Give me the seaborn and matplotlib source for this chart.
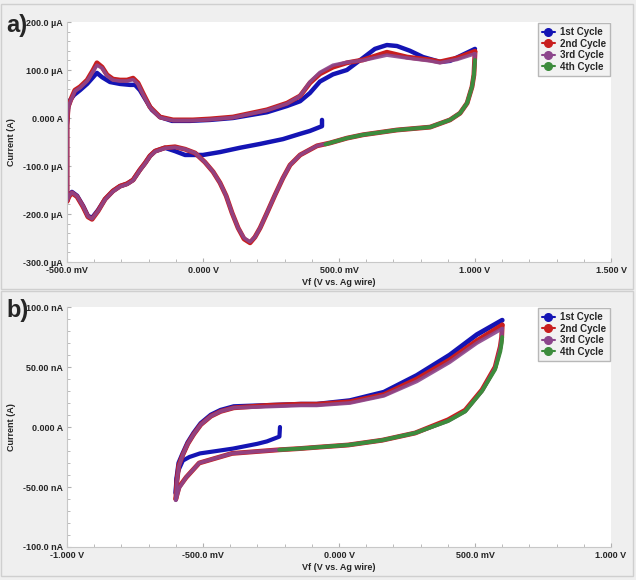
import matplotlib
matplotlib.use('Agg')
import matplotlib.pyplot as plt
import seaborn as sns
from matplotlib.lines import Line2D
from matplotlib.patches import Rectangle
from matplotlib.ticker import AutoMinorLocator

# ---------------- panel a) : potential (V) / current (uA) ----------------
a1_v = [0.4375, 0.4375, 0.393, 0.357, 0.294, 0.21, 0.136, 0.0625, 0.0, -0.066, -0.103, -0.14,
        -0.176, -0.195, -0.213, -0.232, -0.257, -0.279, -0.305, -0.331, -0.36, -0.386, -0.408,
        -0.423, -0.441, -0.463, -0.482, -0.493, -0.5,
        -0.5, -0.5, -0.496, -0.489, -0.474, -0.452, -0.426, -0.404, -0.39, -0.371, -0.342, -0.305,
        -0.268, -0.25, -0.232, -0.213, -0.188, -0.158, -0.114, -0.048, 0.026, 0.11, 0.235, 0.309,
        0.357, 0.393, 0.43, 0.478, 0.529, 0.588, 0.632, 0.676, 0.713, 0.761, 0.809, 0.871, 0.908,
        0.945, 1.0]
a1_i = [-4, -17, -27, -33, -44, -54, -62, -71, -77, -77, -69, -62,
        -69, -79, -94, -108, -129, -137, -142, -152, -169, -192, -208,
        -204, -183, -162, -154, -162, -172,
        -88, -15, 21, 37, 48, 58, 71, 85, 94, 85, 75, 71,
        69, 69, 58, 40, 17, 2, -6, -6, -4, 0, 12, 25,
        35, 52, 76, 91, 100, 125, 144, 152, 150, 140, 127, 117, 119,
        129, 144]

a2_v = [1.0, 0.996, 0.989, 0.971, 0.945, 0.908, 0.835, 0.713, 0.588, 0.529, 0.467, 0.419, 0.357,
        0.32, 0.294, 0.265, 0.235, 0.21, 0.191, 0.173, 0.151, 0.129, 0.107, 0.085, 0.0625, 0.037,
        0.007, -0.029, -0.066, -0.103, -0.14,
        -0.176, -0.195, -0.213, -0.232, -0.257, -0.279, -0.305, -0.331, -0.36, -0.386, -0.408,
        -0.423, -0.441, -0.463, -0.482, -0.493, -0.5,
        -0.5, -0.5, -0.496, -0.482, -0.471, -0.452, -0.426, -0.404, -0.39, -0.371, -0.353, -0.331,
        -0.305, -0.279, -0.257, -0.239, -0.221, -0.195, -0.158, -0.11, -0.037, 0.026, 0.11, 0.235,
        0.309, 0.357, 0.393, 0.43, 0.478, 0.529, 0.588, 0.676, 0.75, 0.835, 0.871, 0.934, 1.0]
a2_i = [137, 90, 65, 31, 10, -4, -19, -25, -35, -42, -52, -58, -77,
        -98, -125, -160, -198, -229, -248, -260, -252, -229, -198, -162, -135, -112,
        -92, -73, -65, -60, -62,
        -69, -79, -94, -108, -129, -137, -142, -152, -169, -194, -211,
        -206, -185, -164, -156, -164, -174,
        -88, -15, 23, 44, 58, 65, 79, 100, 115, 106, 90, 81,
        79, 79, 83, 73, 52, 23, 2, -4, -4, -2, 2, 17,
        31, 46, 73, 92, 106, 115, 121, 137, 127, 121, 117, 125, 139]

a3_v = a2_v
a3_i = [134, 90, 65, 31, 10, -4, -19, -25, -35, -42, -52, -58, -77,
        -98, -125, -160, -198, -229, -248, -258, -250, -229, -198, -162, -135, -112,
        -92, -73, -65, -61, -63,
        -70, -80, -95, -109, -130, -138, -143, -153, -170, -194, -210,
        -205, -184, -163, -155, -163, -173,
        -88, -15, 22, 42, 56, 63, 77, 97, 110, 104, 88, 79,
        77, 77, 80, 71, 50, 22, 1, -5, -5, -3, 1, 16,
        30, 46, 75, 95, 110, 116, 120, 131, 125, 119, 115, 122, 134]

a4_v = [1.0, 0.996, 0.989, 0.971, 0.945, 0.908, 0.835, 0.713, 0.588, 0.529, 0.467, 0.45]
a4_i = [121, 90, 65, 31, 10, -4, -19, -25, -35, -42, -52, -55]

# ---------------- panel b) : potential (V) / current (nA) ----------------
b_up_v = [-0.6, -0.596, -0.589, -0.574, -0.556, -0.534, -0.508, -0.471, -0.435, -0.387,
          -0.262, -0.14, -0.082, 0.04, 0.165, 0.286, 0.407, 0.507, 0.6]
b1_up_i = [-55, -42, -30, -22, -13, -5, 3, 10, 14, 17, 18, 19, 19, 22, 29, 43, 60, 77, 89]
b2_up_i = [-60, -45, -32, -23, -14, -6, 2, 9, 13, 16, 18, 19, 19, 21, 27, 40, 56, 72, 85]
b3_up_i = [-61, -46, -33, -23, -14, -6, 2, 9, 13, 16, 17, 18, 18, 20, 26, 38, 54, 70, 82]

b1_dn_v = [-0.217, -0.219, -0.265, -0.3, -0.39, -0.45, -0.511, -0.55, -0.574, -0.59, -0.598, -0.6]
b1_dn_i = [0, -8, -12, -14, -18, -20, -22, -25, -28, -36, -44, -55]

b_dn_v = [0.6, 0.598, 0.593, 0.574, 0.526, 0.464, 0.401, 0.28, 0.159, 0.034, -0.088, -0.146,
          -0.22, -0.393, -0.514, -0.562, -0.588, -0.6]
b2_dn_i = [85, 75, 67, 50, 31, 14, 6, -5, -11, -15, -17, -18, -19, -22, -30, -42, -50, -60]
b3_dn_i = [82, 74, 66, 49, 30, 13, 5, -5, -11, -15, -17, -18, -19, -22, -30, -42, -51, -61]
b4_dn_i = [75, 70, 63, 48, 30, 13, 5, -5, -11, -15, -17, -18, -19]

cycles = ['1st Cycle', '2nd Cycle', '3rd Cycle', '4th Cycle']
colors = ['#1414b4', '#c81e1e', '#8c468c', '#3c8c3c']

a_xticks = [-0.5, 0.0, 0.5, 1.0, 1.5]
a_xlabels = ['-500.0 mV', '0.000 V', '500.0 mV', '1.000 V', '1.500 V']
a_yticks = [-300, -200, -100, 0, 100, 200]
a_ylabels = ['-300.0 µA', '-200.0 µA', '-100.0 µA', '0.000 A', '100.0 µA', '200.0 µA']
b_xticks = [-1.0, -0.5, 0.0, 0.5, 1.0]
b_xlabels = ['-1.000 V', '-500.0 mV', '0.000 V', '500.0 mV', '1.000 V']
b_yticks = [-100, -50, 0, 50, 100]
b_ylabels = ['-100.0 nA', '-50.00 nA', '0.000 A', '50.00 nA', '100.0 nA']

sns.set_style('white')
plt.rcParams['font.family'] = ['Liberation Sans', 'DejaVu Sans']
plt.rcParams['font.weight'] = 'bold'

fig = plt.figure(figsize=(6.36, 5.80), dpi=100, facecolor='#efefef')
fig.patches.append(Rectangle((1 / 636, 1 - 289 / 580), 632 / 636, 285 / 580, transform=fig.transFigure,
                             fill=False, edgecolor='#cfcfcf', lw=1))
fig.patches.append(Rectangle((1 / 636, 1 - 576 / 580), 632 / 636, 285 / 580, transform=fig.transFigure,
                             fill=False, edgecolor='#cfcfcf', lw=1))

axa = fig.add_axes([67 / 636, 1 - 262 / 580, 544 / 636, 240 / 580])
axb = fig.add_axes([67 / 636, 1 - 547 / 580, 544 / 636, 240 / 580])


def trace(ax, xs, ys, c, w, a=1.0):
    sns.lineplot(x=xs, y=ys, sort=False, estimator=None, errorbar=None, ax=ax,
                 color=c, lw=w, alpha=a, solid_capstyle='round', solid_joinstyle='round')


lw = 3.5
trace(axa, a1_v, a1_i, colors[0], lw - 0.3)
trace(axa, a2_v, a2_i, colors[1], lw)
trace(axa, a3_v, a3_i, colors[2], lw - 0.9, 0.9)
trace(axa, a4_v, a4_i, colors[3], lw - 0.7)

trace(axb, b_up_v, b1_up_i, colors[0], lw)
trace(axb, b1_dn_v, b1_dn_i, colors[0], lw - 0.5)
trace(axb, b_dn_v, b2_dn_i, colors[1], lw)
trace(axb, b_up_v, b2_up_i, colors[1], lw)
trace(axb, b_dn_v, b3_dn_i, colors[2], lw - 0.8, 0.9)
trace(axb, b_up_v, b3_up_i, colors[2], lw - 0.8, 0.9)
trace(axb, b_dn_v[:len(b4_dn_i)], b4_dn_i, colors[3], lw - 0.7)

setup = [
    (axa, a_xticks, a_xlabels, a_yticks, a_ylabels, 'a)'),
    (axb, b_xticks, b_xlabels, b_yticks, b_ylabels, 'b)'),
]
for ax, xt, xl, yt, yl, tag in setup:
    ax.set_facecolor('white')
    ax.set_xlim(xt[0], xt[-1])
    ax.set_ylim(yt[0], yt[-1])
    ax.set_xticks(xt)
    ax.set_xticklabels(xl)
    ax.set_yticks(yt)
    ax.set_yticklabels(yl)
    ax.xaxis.set_minor_locator(AutoMinorLocator(5))
    ax.yaxis.set_minor_locator(AutoMinorLocator(5))
    ax.tick_params(which='both', direction='in', color='#b0b0b0', labelsize=6.5, pad=3)
    ax.tick_params(which='major', length=3, left=True, bottom=True)
    ax.tick_params(which='minor', length=2, left=True, bottom=True)
    for s in ['top', 'right']:
        ax.spines[s].set_visible(False)
    for s in ['left', 'bottom']:
        ax.spines[s].set_color('#c8c8c8')
    ax.set_xlabel('Vf (V vs. Ag wire)', fontsize=6.5, fontweight='bold', labelpad=2)
    ax.set_ylabel('Current (A)', fontsize=6.5, fontweight='bold', labelpad=5)
    handles = [Line2D([0], [0], color=c, marker='o', markersize=5.5, lw=1.5) for c in colors]
    ax.legend(handles, cycles, loc='upper right', bbox_to_anchor=(1.0, 1.0), borderaxespad=0.15,
              handlelength=1.3, labelspacing=0.15, borderpad=0.4, handletextpad=0.5,
              fancybox=False, framealpha=1, facecolor='#f2f2f2', edgecolor='#b8b8b8',
              prop={'weight': 'bold', 'size': 7})
    ax.text(-0.112, 0.985, tag, transform=ax.transAxes, fontsize=17, fontweight='bold',
            ha='left', va='center')

fig.savefig('out.png', dpi=100, facecolor=fig.get_facecolor())
